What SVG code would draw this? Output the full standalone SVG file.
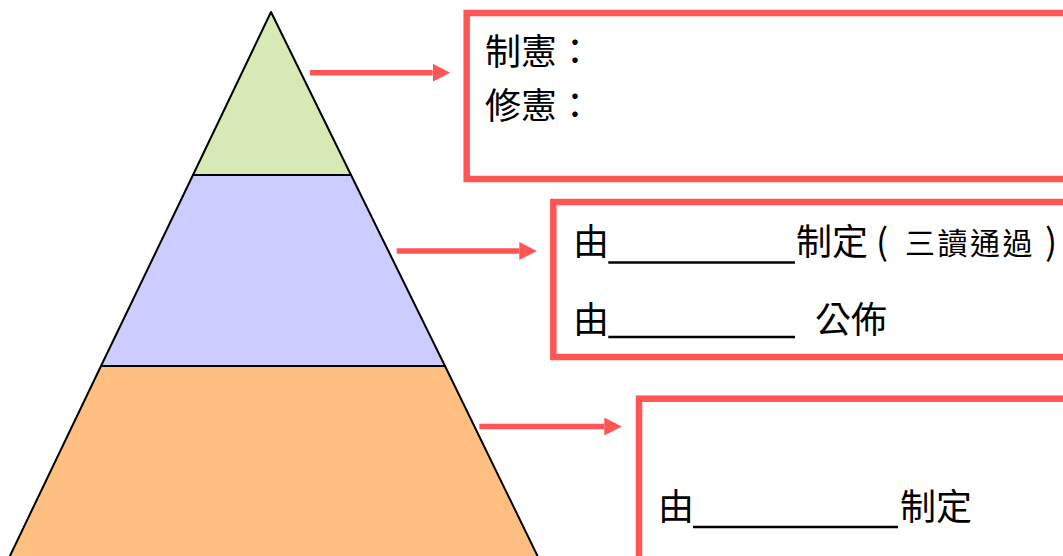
<svg xmlns="http://www.w3.org/2000/svg" width="1063" height="556" viewBox="0 0 1063 556">
  <defs>
    <marker id="arrowhead" markerUnits="userSpaceOnUse" markerWidth="18" markerHeight="18" refX="0" refY="9" orient="auto" viewBox="0 0 18 18">
      <path d="M0,0 L17.5,9 L0,18 Z" fill="#FF5555"/>
    </marker>
    <style>
      .tier { stroke: #000000; stroke-width: 2; stroke-linejoin: round; }
      .box { fill: #FFFFFF; stroke: #FF5555; stroke-width: 6.5; }
      .conn { stroke: #FF5555; stroke-width: 5.5; fill: none; marker-end: url(#arrowhead); }
      .t { font-family: "Noto Sans CJK TC", "Noto Sans CJK SC", "Liberation Sans", sans-serif; font-size: 36px; fill: #000000; }
      .ts { font-size: 30px; letter-spacing: 2.5px; }
      .blank { stroke: #000000; stroke-width: 2.5; }
    </style>
  </defs>
  <rect x="0" y="0" width="1063" height="556" fill="#FFFFFF"/>

  <g id="tier-top">
    <polygon class="tier" points="271,12 351,175 193,175" fill="#D7E9B4"/>
  </g>
  <g id="tier-middle">
    <polygon class="tier" points="193,175 351,175 445,366 101,366" fill="#CCCCFF"/>
  </g>
  <g id="tier-bottom">
    <polygon class="tier" points="101,366 445,366 539.5,560 8,560" fill="#FFBF80"/>
  </g>

  <g id="connectors">
    <line class="conn" x1="310" y1="72.7" x2="432.7" y2="72.7"/>
    <line class="conn" x1="396.7" y1="251" x2="519.3" y2="251"/>
    <line class="conn" x1="479.3" y1="426.5" x2="604.3" y2="426.5"/>
  </g>

  <g id="box-constitution">
    <rect class="box" x="466.7" y="13" width="640" height="166"/>
    <text class="t" x="485" y="65">制憲：</text>
    <text class="t" x="485" y="119">修憲：</text>
  </g>

  <g id="box-law">
    <rect class="box" x="553.3" y="202" width="540" height="155"/>
    <text class="t" x="573" y="255">由</text>
    <line class="blank" x1="608.3" y1="262.5" x2="795" y2="262.5"/>
    <text class="t" x="796" y="255">制定<tspan x="876">(</tspan><tspan class="ts" x="905" y="254">三讀通過</tspan><tspan x="1045" y="255">)</tspan></text>
    <text class="t" x="573" y="333">由</text>
    <line class="blank" x1="608.3" y1="337" x2="795" y2="337"/>
    <text class="t" x="815" y="333">公佈</text>
  </g>

  <g id="box-order">
    <rect class="box" x="639" y="398.7" width="460" height="200"/>
    <text class="t" x="658" y="520">由</text>
    <line class="blank" x1="693" y1="527" x2="898" y2="527"/>
    <text class="t" x="900" y="520">制定</text>
  </g>
</svg>
